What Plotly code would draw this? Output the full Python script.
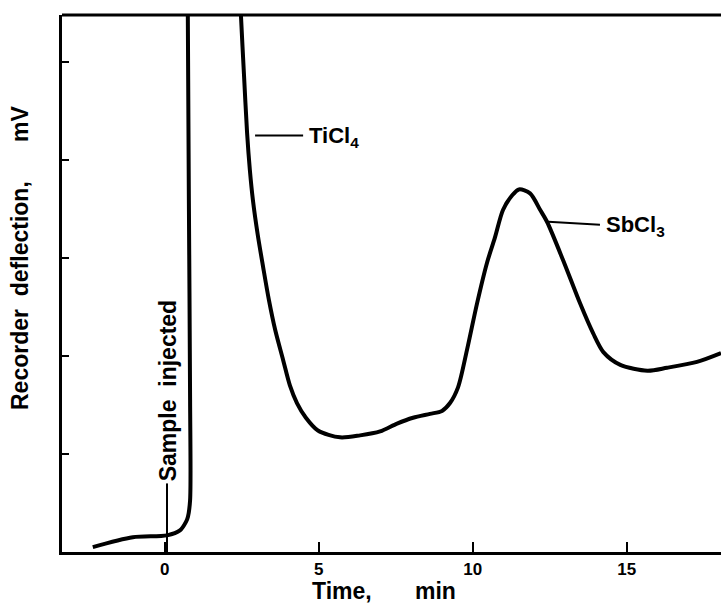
import plotly.graph_objects as go

# Chromatogram trace (time in min, recorder deflection in arbitrary mV units)
time_min = [-2.34, -1.04, 0.07, 0.49, 0.69, 0.75, 0.82, 0.82, 0.78, 0.74,
            None,
            2.43, 2.47, 2.57, 2.67, 2.76, 2.86, 3.02, 3.19, 3.38, 3.58, 3.84,
            4.06, 4.29, 4.58, 4.97, 5.69,
            6.34, 6.99, 7.54, 8.06, 8.61, 9.00, 9.26, 9.52, 9.81, 10.14, 10.46,
            10.72, 10.98, 11.28, 11.50, 11.86, 12.19, 12.41, 12.93, 13.48,
            13.91, 14.24, 14.79, 15.67, 16.31, 17.28, 18.06]
deflection = [0.05, 0.15, 0.17, 0.22, 0.31, 0.36, 0.53, 1.55, 3.59, 5.80,
              None,
              5.80, 5.48, 4.87, 4.28, 3.90, 3.59, 3.23, 2.91, 2.57, 2.27, 1.96,
              1.70, 1.52, 1.37, 1.24, 1.17,
              1.19, 1.23, 1.31, 1.37, 1.41, 1.44, 1.52, 1.68, 2.06, 2.54, 2.95,
              3.21, 3.49, 3.64, 3.70, 3.66, 3.49, 3.37, 2.98, 2.54,
              2.23, 2.04, 1.91, 1.85, 1.88, 1.94, 2.03]

x_ticks = [0, 5, 10, 15]
x_tick_labels = ["0", "5", "10", "15"]
y_ticks = [1, 2, 3, 4, 5]

FONT = "Liberation Sans"

fig = go.Figure()
fig.add_trace(go.Scatter(
    x=time_min, y=deflection, mode="lines",
    line=dict(color="black", width=4, shape="spline", smoothing=0.8),
    connectgaps=False, hoverinfo="skip", showlegend=False))

fig.update_layout(
    width=721, height=609,
    margin=dict(l=62, r=0, t=15, b=57),
    paper_bgcolor="white", plot_bgcolor="white",
    font=dict(family=FONT, color="black", size=17),
    xaxis=dict(range=[-3.34, 18.06], tickvals=x_ticks, ticktext=x_tick_labels,
               ticks="inside", ticklen=10, tickwidth=2, tickcolor="black",
               showline=True, linecolor="black", linewidth=3,
               showgrid=False, zeroline=False,
               tickfont=dict(family=FONT, size=17, weight="bold")),
    yaxis=dict(range=[0, 5.48], tickvals=y_ticks, showticklabels=False,
               ticks="inside", ticklen=7, tickwidth=2, tickcolor="black",
               showline=True, linecolor="black", linewidth=3,
               showgrid=False, zeroline=False),
)

# top frame line
fig.add_shape(type="line", xref="paper", yref="paper", x0=0, x1=1, y0=1, y1=1,
              line=dict(color="black", width=3))

# leader lines
fig.add_shape(type="line", xref="x", yref="y", x0=2.93, x1=4.49, y0=4.25, y1=4.25,
              line=dict(color="black", width=2))
fig.add_shape(type="line", xref="x", yref="y", x0=12.45, x1=14.13, y0=3.37, y1=3.34,
              line=dict(color="black", width=2))
fig.add_shape(type="line", xref="x", yref="y", x0=0.07, x1=0.07, y0=0.0, y1=0.70,
              line=dict(color="black", width=2))

label_font = dict(family=FONT, size=22, color="black", weight="bold")
fig.add_annotation(x=4.62, y=4.23, xref="x", yref="y", text="TiCl<sub>4</sub>",
                   showarrow=False, xanchor="left", yanchor="middle", font=label_font)
fig.add_annotation(x=14.27, y=3.33, xref="x", yref="y", text="SbCl<sub>3</sub>",
                   showarrow=False, xanchor="left", yanchor="middle", font=label_font)
fig.add_annotation(x=0.1, y=0.70, xref="x", yref="y", text="Sample&nbsp;&nbsp;injected",
                   showarrow=False, textangle=-90, xanchor="center", yanchor="bottom",
                   font=dict(family=FONT, size=23, color="black", weight="bold"))

# axis titles
title_font = dict(family=FONT, size=23, color="black", weight="bold")
fig.add_annotation(x=(20 - 62) / 659, y=(552 - 296) / 537, xref="paper", yref="paper",
                   text="Recorder&nbsp;&nbsp;deflection,", textangle=-90, showarrow=False,
                   xanchor="center", yanchor="middle", font=title_font)
fig.add_annotation(x=(20 - 62) / 659, y=(552 - 124) / 537, xref="paper", yref="paper",
                   text="mV", textangle=-90, showarrow=False,
                   xanchor="center", yanchor="middle", font=title_font)
fig.add_annotation(x=(342 - 62) / 659, y=(552 - 591) / 537, xref="paper", yref="paper",
                   text="Time,", showarrow=False, xanchor="center", yanchor="middle",
                   font=title_font)
fig.add_annotation(x=(435 - 62) / 659, y=(552 - 591) / 537, xref="paper", yref="paper",
                   text="min", showarrow=False, xanchor="center", yanchor="middle",
                   font=title_font)

fig.write_html("out.html")
